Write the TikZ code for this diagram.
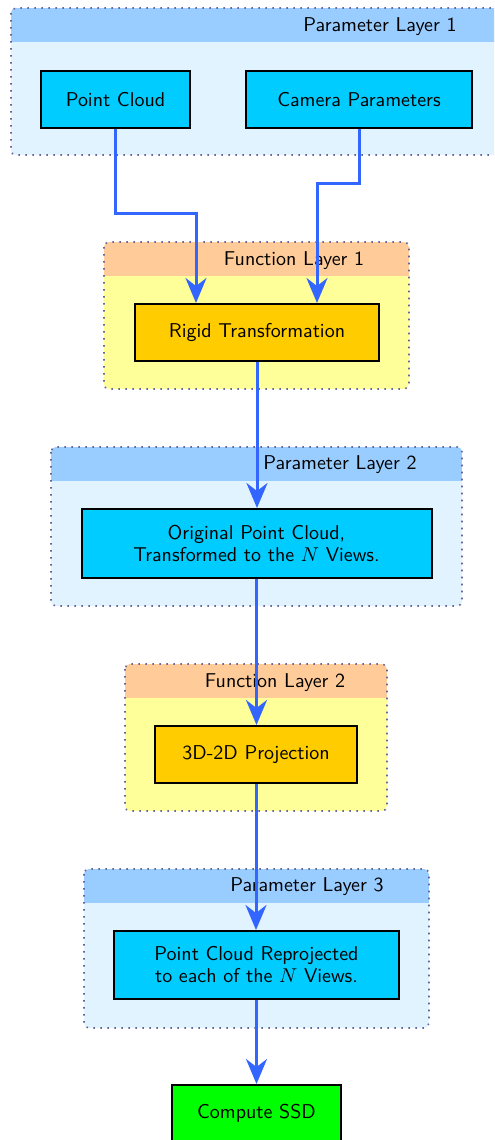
\documentclass[tikz,border=0pt]{standalone}
\usetikzlibrary{arrows.meta}
\definecolor{hdrblue}{HTML}{99CCFF}
\definecolor{bodyblue}{HTML}{E1F3FE}
\definecolor{boxcyan}{HTML}{00CCFF}
\definecolor{hdrorange}{HTML}{FFCC99}
\definecolor{bodyyellow}{HTML}{FFFF99}
\definecolor{boxgold}{HTML}{FFCC00}
\definecolor{boxgreen}{HTML}{00FF00}
\definecolor{arrblue}{HTML}{3366FF}
\definecolor{dotcol}{HTML}{666699}
\begin{document}
\begin{tikzpicture}[x=0.5pt,y=-0.5pt,font=\sffamily,
  blockbox/.style={draw=black,line width=1pt,inner sep=0pt,align=center},
  pbox/.style={blockbox,fill=boxcyan},
  fbox/.style={blockbox,fill=boxgold},
  grpborder/.style={draw=dotcol,line width=0.8pt,dash pattern=on 0.8pt off 2.7pt,rounded corners=2.5pt},
  title/.style={inner sep=0pt},
  flow/.style={draw=arrblue,line width=1.5pt,-{Stealth[length=12.5pt,width=10.5pt,inset=4pt]}},
  link/.style={draw=arrblue,line width=1.5pt}]
\useasboundingbox (0,0) rectangle (494,1140);
\clip (0,0) rectangle (494,1140);

% group helper: body, header, border
\newcommand{\grp}[6]{%
  \begin{scope}
    \clip[rounded corners=2.5pt] (#1,#2) rectangle (#3,#4);
    \fill[#6] (#1,#2) rectangle (#3,#4);
    \fill[#5] (#1,#2) rectangle (#3,#2+34);
  \end{scope}
  \draw[grpborder] (#1,#2) rectangle (#3,#4);}

\grp{11}{8}{530}{155}{hdrblue}{bodyblue}
\grp{104}{242}{409}{389}{hdrorange}{bodyyellow}
\grp{51}{447}{462}{606}{hdrblue}{bodyblue}
\grp{125}{664}{387}{811}{hdrorange}{bodyyellow}
\grp{84}{869}{429}{1028}{hdrblue}{bodyblue}

\node[title] (t1) at (380,27) {Parameter Layer 1};
\node[title] (t2) at (294,261) {Function Layer 1};
\node[title] (t3) at (340,465) {Parameter Layer 2};
\node[title] (t4) at (275,683) {Function Layer 2};
\node[title] (t5) at (307,887) {Parameter Layer 3};

\node[pbox,minimum width=74.5pt,minimum height=28.5pt] (pc) at (115.5,99.5) {Point Cloud};
\node[pbox,minimum width=113pt,minimum height=28.5pt] (cam) at (359,99.5) {Camera Parameters};
\node[fbox,minimum width=122pt,minimum height=28.5pt] (rigid) at (257,332.5) {Rigid Transformation};
\node[pbox,minimum width=175pt,minimum height=34.5pt] (orig) at (256.5,543.5) {Original Point Cloud,\\[-1pt] Transformed to the $N$ Views.};
\node[fbox,minimum width=101pt,minimum height=28.5pt] (proj) at (256,754.5) {3D-2D Projection};
\node[pbox,minimum width=142.5pt,minimum height=34pt] (reproj) at (256.5,965) {Point Cloud Reprojected\\[-1pt] to each of the $N$ Views.};
\node[blockbox,fill=boxgreen,minimum width=84.5pt,minimum height=28.5pt] (ssd) at (256.5,1113.5) {Compute SSD};

\coordinate (b1) at (196,213);
\coordinate (b2) at (317,183);
\draw[flow] (pc.south) |- (b1) -- (b1 |- rigid.north);
\draw[flow] (cam.south) |- (b2) -- (b2 |- rigid.north);
\draw[flow] (rigid.south) -- (rigid.south |- orig.north);
\draw[flow] (orig.south) -- (orig.south |- proj.north);
\draw[flow] (proj.south) -- (proj.south |- reproj.north);
\draw[flow] (reproj.south) -- (reproj.south |- ssd.north);
\end{tikzpicture}
\end{document}
